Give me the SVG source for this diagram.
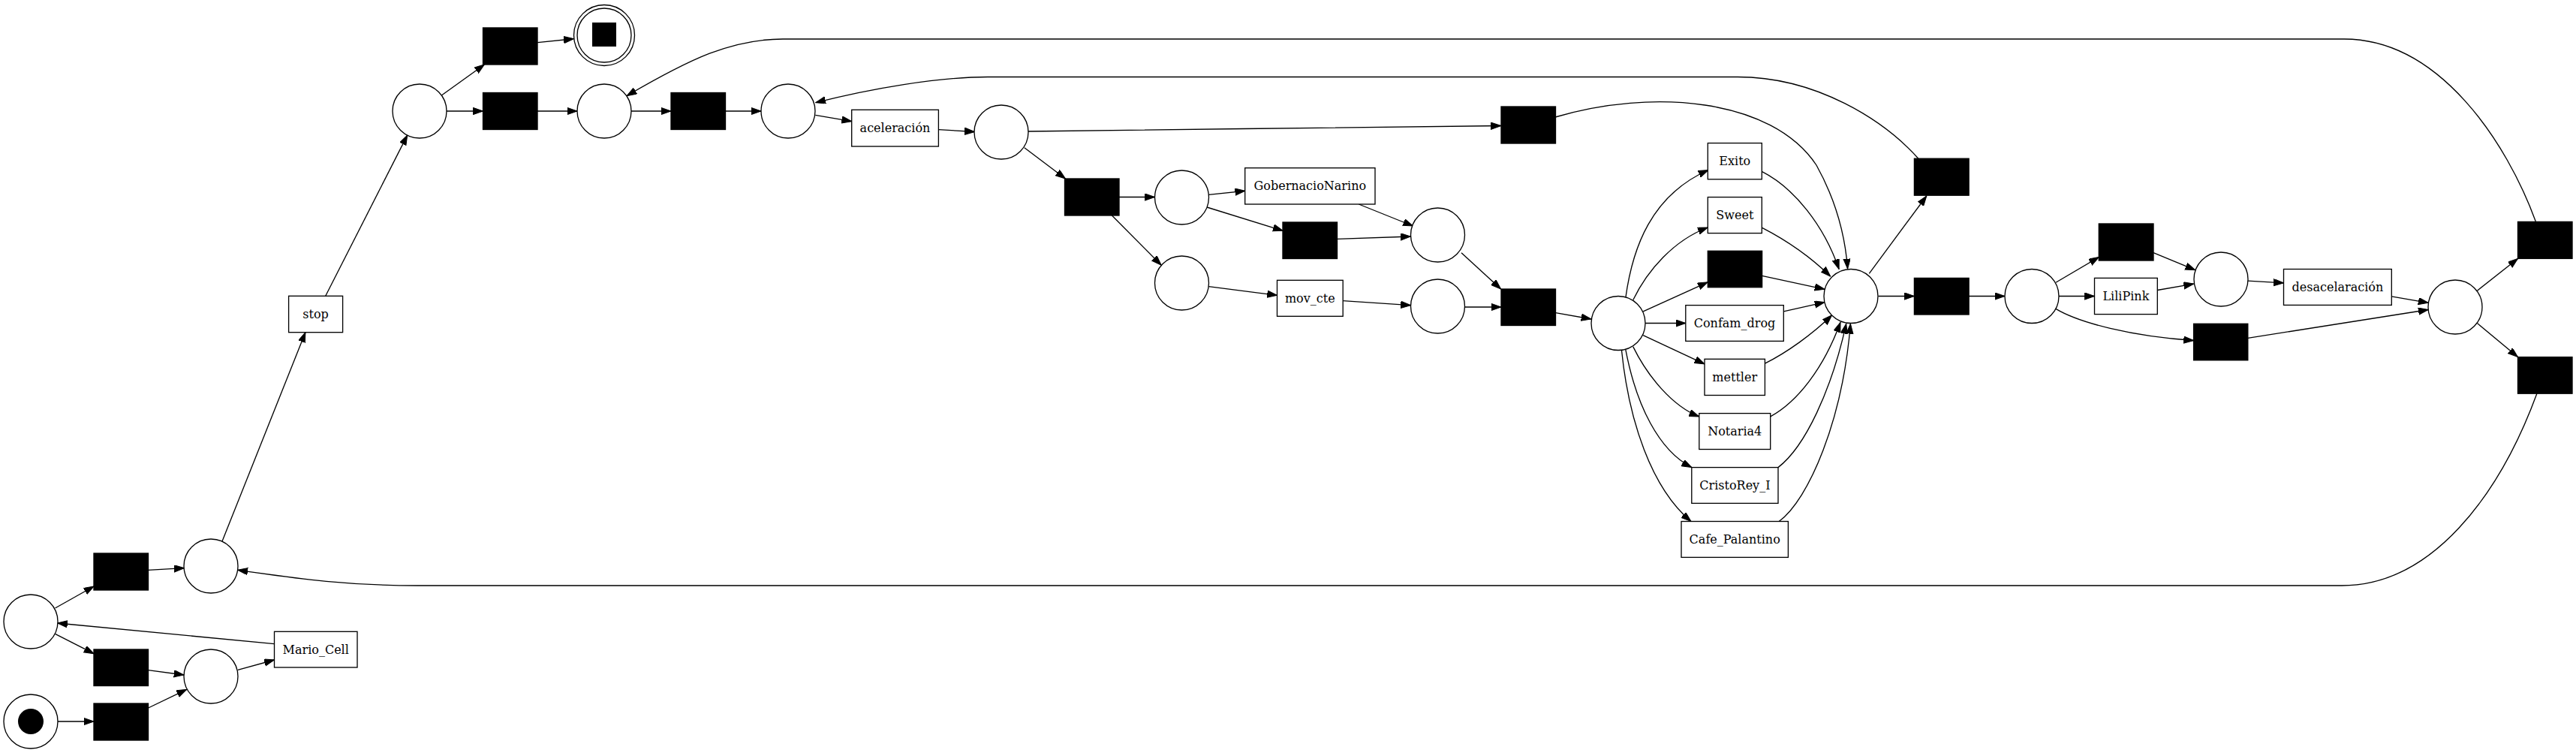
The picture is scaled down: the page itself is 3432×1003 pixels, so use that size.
<svg xmlns="http://www.w3.org/2000/svg" width="3432" height="1003" viewBox="0 0 3432 1003">
<style>
.p{fill:#fff;stroke:#000;stroke-width:1.33}
.t{fill:#000;stroke:#000;stroke-width:1.33}
.b{fill:#fff;stroke:#000;stroke-width:1.33}
.e{fill:none;stroke:#000;stroke-width:1.33;marker-end:url(#ah)}
.l{font-family:"DejaVu Serif","Liberation Serif",serif;font-size:16px;text-anchor:middle;fill:#000}
</style>
<defs>
<marker id="ah" markerUnits="userSpaceOnUse" markerWidth="14" markerHeight="10" refX="13.3" refY="4.67" orient="auto">
<path d="M0,0 L13.3,4.67 L0,9.33 z" fill="#000" stroke="#000" stroke-width="1"/>
</marker>
</defs>
<rect width="3432" height="1003" fill="#fff"/>
<g id="connectors">
<path class="e" d="M77,961 L125,961"/>
<path class="e" d="M197.5,943 L248.7,918.3"/>
<path class="e" d="M197.5,892.7 L245,899"/>
<path class="e" d="M316.9,892.3 L365.5,879"/>
<path class="e" d="M365.5,857.7 L76.5,830"/>
<path class="e" d="M73.5,810 L125.1,781"/>
<path class="e" d="M73.5,844.3 L125.1,870.7"/>
<path class="e" d="M197.5,759.3 L245.5,756.7"/>
<path class="e" d="M295.7,721.7 L406.9,442.7"/>
<path class="e" d="M433.7,394.3 L542.7,180.1"/>
<path class="e" d="M588.3,127 L645.4,86"/>
<path class="e" d="M595,148 L643.5,148"/>
<path class="e" d="M716.2,56.7 L764.3,51.7"/>
<path class="e" d="M716,148 L769,148"/>
<path class="e" d="M841,148 L894,148"/>
<path class="e" d="M967,148 L1014,148"/>
<path class="e" d="M1086.3,153.3 L1134.7,161.7"/>
<path class="e" d="M1250.4,172.7 L1298.5,175.5"/>
<path class="e" d="M1370,175 C1550,172 1850,170 1999.6,167.5"/>
<path class="e" d="M1364.8,196.7 L1419.5,238"/>
<path class="e" d="M1491,262.5 L1538.5,262.5"/>
<path class="e" d="M1481.2,286.7 L1547.2,353.3"/>
<path class="e" d="M1610.3,259.3 L1658.7,254.3"/>
<path class="e" d="M1608,276 L1709.2,307.3"/>
<path class="e" d="M1810.3,272 L1882.5,301"/>
<path class="e" d="M1781.5,318.3 L1879.5,315"/>
<path class="e" d="M1610.3,381.7 L1701.5,393.3"/>
<path class="e" d="M1789.2,400.7 L1879.5,406.7"/>
<path class="e" d="M1947,336.7 L1999.6,385"/>
<path class="e" d="M1951.5,409 L2000,409"/>
<path class="e" d="M2072.6,416.7 L2120,425"/>
<path class="e" d="M2165.8,396.8 C2175,330 2200,260 2276,226.5"/>
<path class="e" d="M2175.8,399.5 C2195,360 2230,320 2275.3,303"/>
<path class="e" d="M2189.2,414.8 L2275.3,375.8"/>
<path class="e" d="M2192,430.5 L2245.8,430.5"/>
<path class="e" d="M2189.2,446.6 L2271,484.8"/>
<path class="e" d="M2175.8,461.9 C2195,501 2228,541 2263.8,554.9"/>
<path class="e" d="M2165.8,465.7 C2180,540 2210,600 2253.8,622.6"/>
<path class="e" d="M2160.5,466.8 C2170,560 2200,650 2253,694.5"/>
<path class="e" d="M2347.2,228.4 C2390,250 2430,300 2450.1,358.5"/>
<path class="e" d="M2347.2,303.1 C2380,320 2410,340 2438.7,368.1"/>
<path class="e" d="M2347.6,367.4 L2431,385.3"/>
<path class="e" d="M2376.3,414.8 L2431,402.6"/>
<path class="e" d="M2351.4,484.1 C2380,470 2415,445 2440.6,419.8"/>
<path class="e" d="M2358.7,554.9 C2395,535 2430,490 2452,429.3"/>
<path class="e" d="M2369,622.6 C2405,595 2440,520 2459.7,431.3"/>
<path class="e" d="M2370.2,694.5 C2410,665 2455,560 2465.4,431.3"/>
<path class="e" d="M2072,156 C2200,118 2360,130 2420,220 C2445,265 2458,310 2461.6,358"/>
<path class="e" d="M2490.3,364.3 L2566.8,261"/>
<path class="e" d="M2502.5,394.5 L2550.4,394.5"/>
<path class="e" d="M2623,394.5 L2671,394.5"/>
<path class="e" d="M2556.3,211.7 C2510,160 2420,102.5 2315,102.5 L1316,102.5 C1250,102.5 1160,118 1086.7,136.7"/>
<path class="e" d="M2739,376.2 L2796.3,342.5"/>
<path class="e" d="M2743,394.5 L2790.5,394.5"/>
<path class="e" d="M2739,411.4 C2770,430 2840,448 2922.6,453.5"/>
<path class="e" d="M2869,336.7 L2924.7,359.7"/>
<path class="e" d="M2874.3,386.5 L2922.6,378.1"/>
<path class="e" d="M2994.8,374.2 L3042.5,376.9"/>
<path class="e" d="M3186.3,394.9 L3235.2,403.3"/>
<path class="e" d="M2994.8,450.4 L3235.2,412.5"/>
<path class="e" d="M3300.4,387.2 L3354.5,344.4"/>
<path class="e" d="M3300.4,430.5 L3354.5,475.6"/>
<path class="e" d="M3378.3,295 C3340,190 3250,52 3123,52 L1043,52 C975,52 920,78 835,127.7"/>
<path class="e" d="M3380,524 C3330,660 3240,780 3120,780 L556,780 C450,780 380,768 316.7,759.3"/>
</g>
<g id="p0"><circle class="p" cx="41" cy="961" r="36"/><circle cx="41" cy="961" r="17" fill="#000"/></g>
<g id="p1"><circle class="p" cx="41" cy="828" r="36"/></g>
<g id="p2"><circle class="p" cx="281" cy="754" r="36"/></g>
<g id="p3"><circle class="p" cx="281" cy="901" r="36"/></g>
<g id="p4"><circle class="p" cx="559" cy="148" r="36"/></g>
<g id="p5"><circle class="p" cx="805" cy="47" r="40.5"/><circle class="p" cx="805" cy="47" r="36"/><rect x="789" y="30" width="32" height="32" fill="#000"/></g>
<g id="p6"><circle class="p" cx="805" cy="148" r="36"/></g>
<g id="p7"><circle class="p" cx="1050" cy="148" r="36"/></g>
<g id="p8"><circle class="p" cx="1334" cy="176" r="36"/></g>
<g id="p9"><circle class="p" cx="1574.5" cy="263" r="36"/></g>
<g id="p10"><circle class="p" cx="1574.5" cy="377" r="36"/></g>
<g id="p11"><circle class="p" cx="1915.5" cy="313" r="36"/></g>
<g id="p12"><circle class="p" cx="1915.5" cy="408" r="36"/></g>
<g id="p13"><circle class="p" cx="2156" cy="430.5" r="36"/></g>
<g id="p14"><circle class="p" cx="2466" cy="394.5" r="36"/></g>
<g id="p15"><circle class="p" cx="2707" cy="394.5" r="36"/></g>
<g id="p16"><circle class="p" cx="2959" cy="372" r="36"/></g>
<g id="p17"><circle class="p" cx="3271" cy="409" r="36"/></g>
<g id="t1"><rect class="t" x="125" y="937" width="72.5" height="49"/></g>
<g id="t2"><rect class="t" x="125" y="865" width="72.5" height="48.5"/></g>
<g id="t3"><rect class="t" x="125" y="737" width="72.5" height="49"/></g>
<g id="t4"><rect class="t" x="643.5" y="37" width="72.5" height="49"/></g>
<g id="t5"><rect class="t" x="643.5" y="123.5" width="72.5" height="49"/></g>
<g id="t6"><rect class="t" x="894" y="123.5" width="72.5" height="49"/></g>
<g id="t7"><rect class="t" x="2000" y="142" width="72.5" height="49"/></g>
<g id="t8"><rect class="t" x="1418.5" y="238" width="72.5" height="49"/></g>
<g id="t9"><rect class="t" x="1709" y="296" width="72.5" height="48.5"/></g>
<g id="t10"><rect class="t" x="2000" y="385" width="72.5" height="48.5"/></g>
<g id="t11"><rect class="t" x="2275.3" y="334.3" width="72.3" height="48.4"/></g>
<g id="t12"><rect class="t" x="2550.4" y="211.2" width="72.7" height="49"/></g>
<g id="t13"><rect class="t" x="2550.4" y="370.4" width="72.7" height="48.6"/></g>
<g id="t14"><rect class="t" x="2796.3" y="298" width="72.7" height="49"/></g>
<g id="t15"><rect class="t" x="2922.6" y="431.3" width="72.2" height="48.5"/></g>
<g id="t16"><rect class="t" x="3354.5" y="295.4" width="72.5" height="49"/></g>
<g id="t17"><rect class="t" x="3354.5" y="475.6" width="72.5" height="48.6"/></g>
<g id="mario_cell"><rect class="b" x="365.5" y="841.3" width="110.5" height="47.7"/><text class="l" x="420.7" y="870.5">Mario_Cell</text></g>
<g id="stop"><rect class="b" x="384.6" y="394.3" width="72" height="48.4"/><text class="l" x="420.6" y="424">stop</text></g>
<g id="aceleracion"><rect class="b" x="1134.7" y="146.3" width="115.7" height="48.7"/><text class="l" x="1192.5" y="176.2">aceleración</text></g>
<g id="gobernacionarino"><rect class="b" x="1658.7" y="223.7" width="173.3" height="48.3"/><text class="l" x="1745.3" y="253.4">GobernacioNarino</text></g>
<g id="mov_cte"><rect class="b" x="1701.5" y="373.3" width="87.7" height="48"/><text class="l" x="1745.3" y="402.8">mov_cte</text></g>
<g id="exito"><rect class="b" x="2275.3" y="190.6" width="72" height="48.2"/><text class="l" x="2311.3" y="220.2">Exito</text></g>
<g id="sweet"><rect class="b" x="2275.3" y="262.6" width="72" height="48"/><text class="l" x="2311.3" y="292.1">Sweet</text></g>
<g id="confam_drog"><rect class="b" x="2245.8" y="406.6" width="130.5" height="47.8"/><text class="l" x="2311" y="436">Confam_drog</text></g>
<g id="mettler"><rect class="b" x="2271" y="478.3" width="80.4" height="48.2"/><text class="l" x="2311.2" y="507.9">mettler</text></g>
<g id="notaria4"><rect class="b" x="2263.8" y="550.6" width="94.9" height="47.9"/><text class="l" x="2311.2" y="580">Notaria4</text></g>
<g id="cristorey_i"><rect class="b" x="2253.8" y="622.6" width="115.2" height="47.8"/><text class="l" x="2311.4" y="652">CristoRey_I</text></g>
<g id="cafe_palantino"><rect class="b" x="2240" y="694.5" width="142.4" height="47.9"/><text class="l" x="2311.2" y="724">Cafe_Palantino</text></g>
<g id="lilipink"><rect class="b" x="2790.5" y="370.4" width="83.8" height="48.2"/><text class="l" x="2832.4" y="400">LiliPink</text></g>
<g id="desacelaracion"><rect class="b" x="3042.5" y="358.5" width="143.8" height="47.9"/><text class="l" x="3114.4" y="388">desacelaración</text></g>
</svg>
